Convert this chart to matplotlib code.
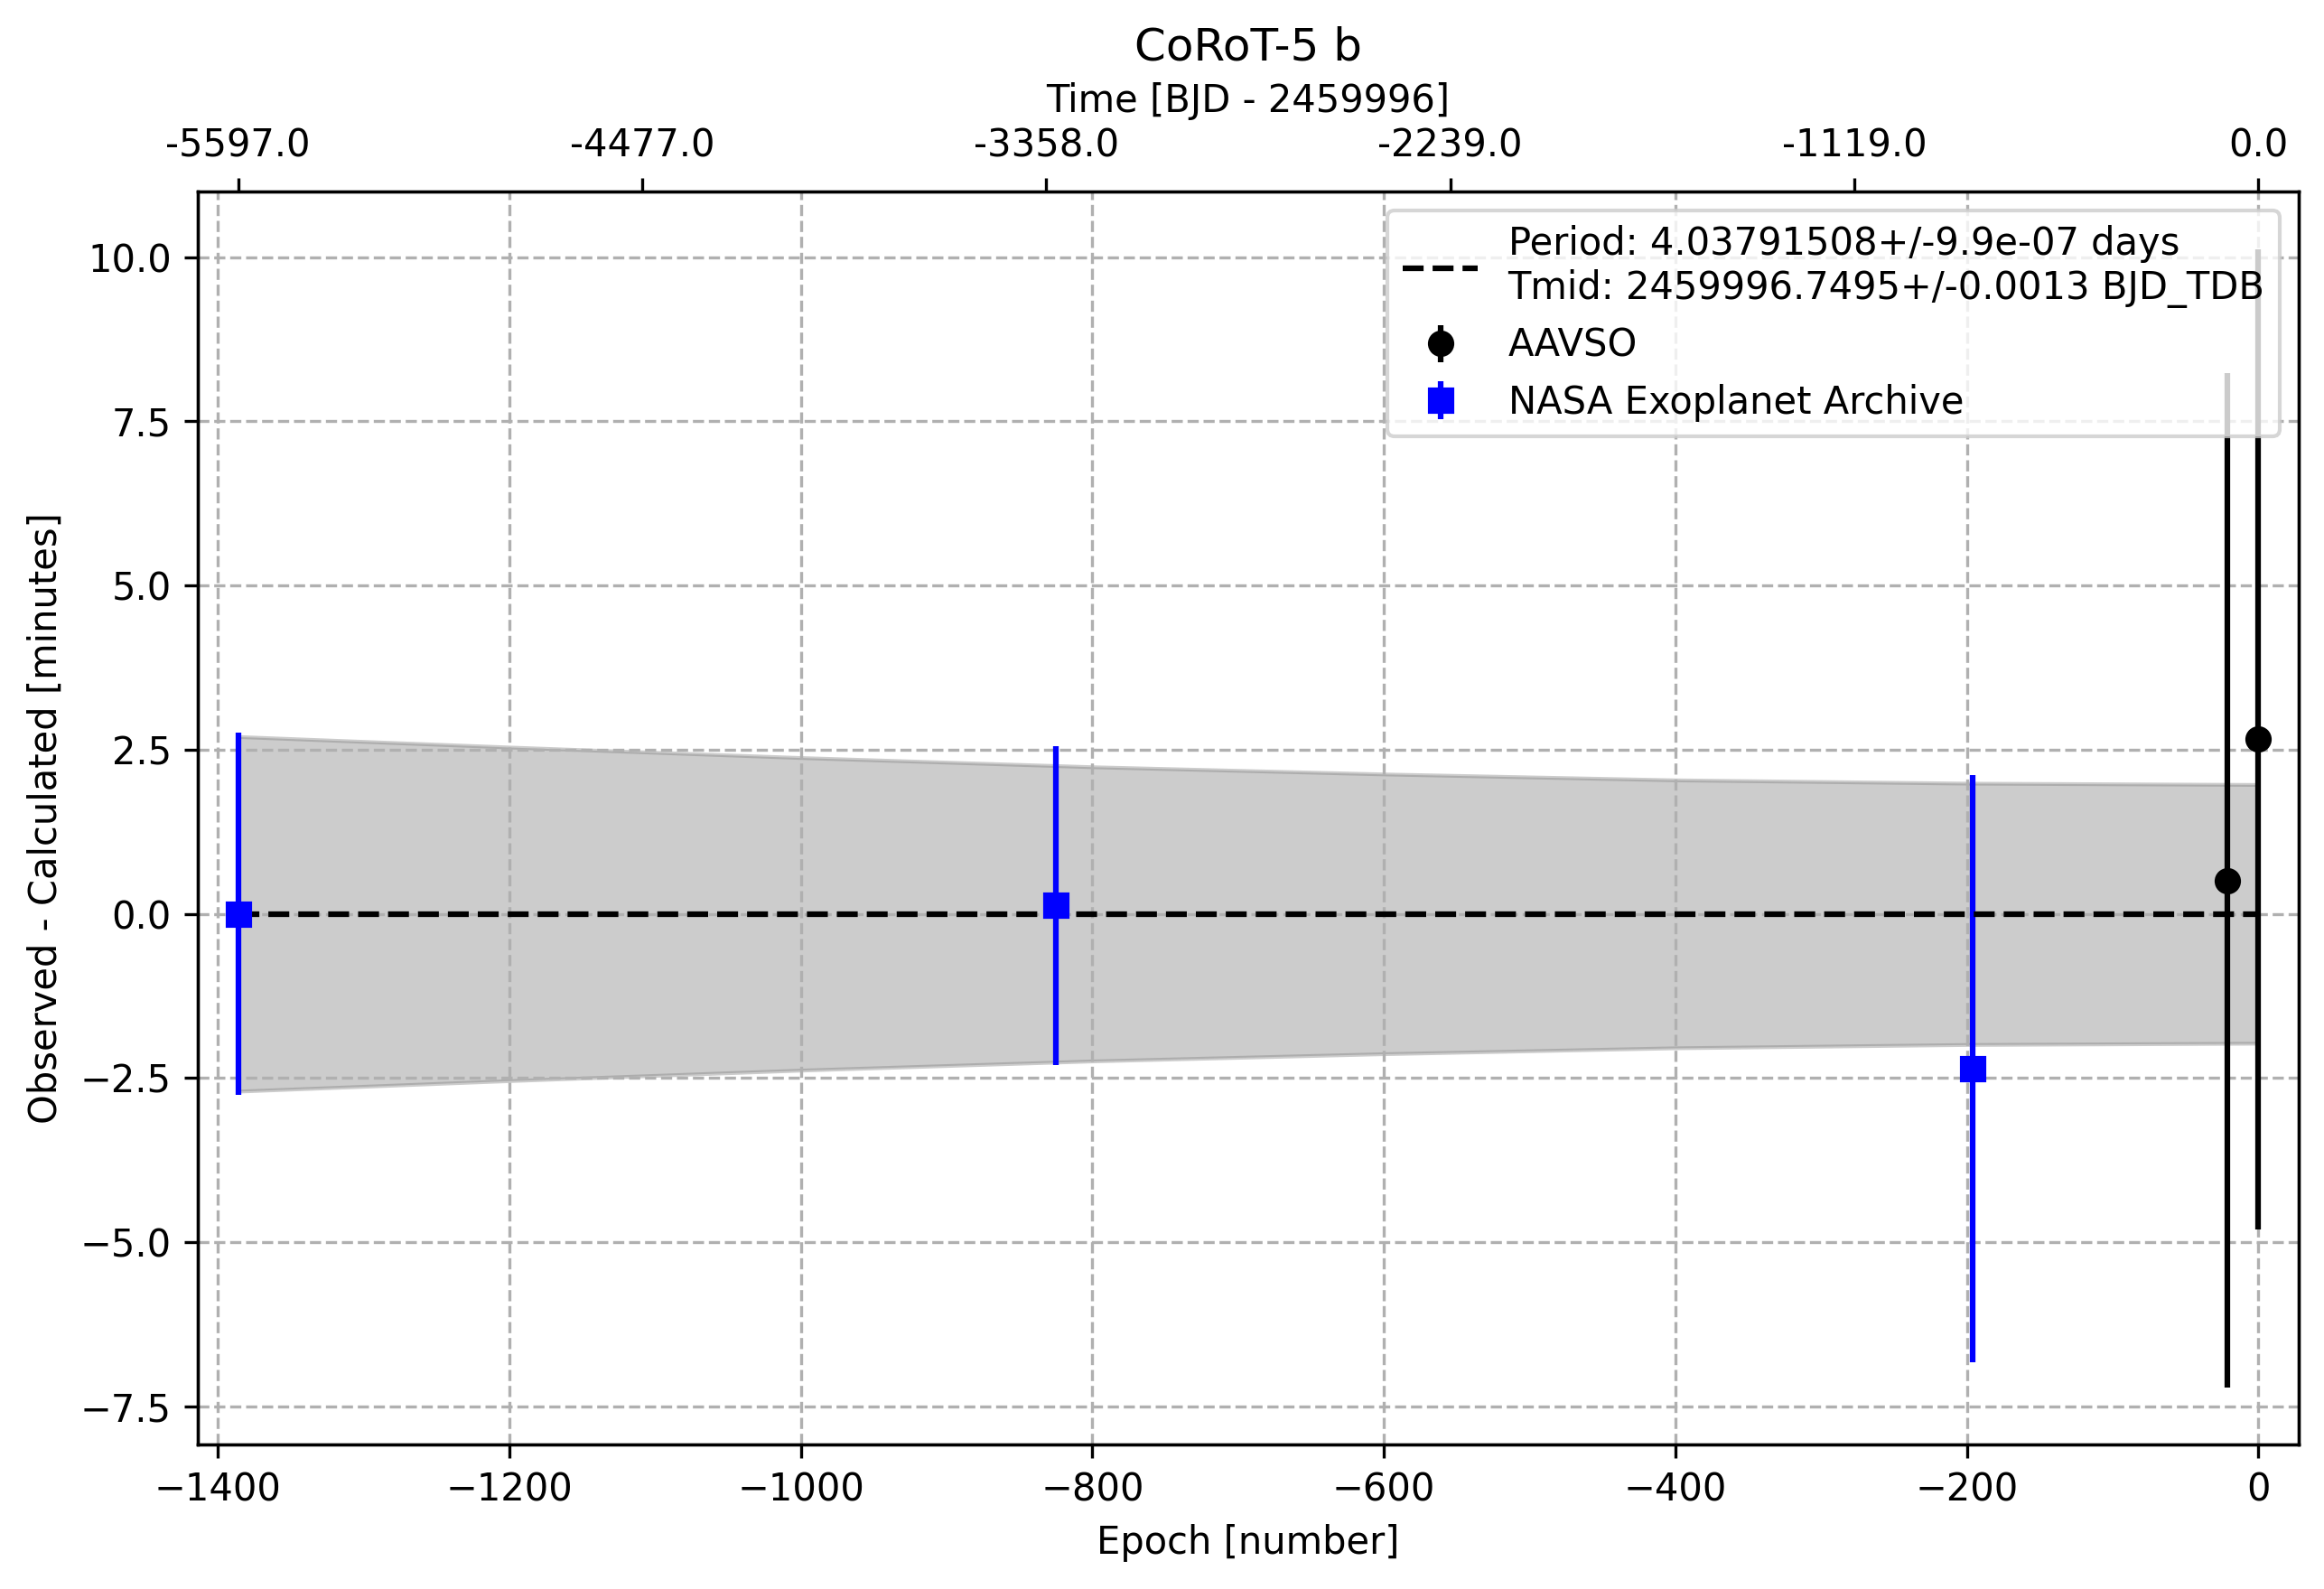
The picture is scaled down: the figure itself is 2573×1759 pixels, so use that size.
import numpy as np
import matplotlib
matplotlib.use("Agg")
import matplotlib.pyplot as plt

# ---- data ----
period = 4.03791508
period_err = 9.9e-07
tmid = 2459996.7495
tmid_err = 0.0013

aavso_epoch = [-21, 0]
aavso_oc = [0.51, 2.66]
aavso_err = [7.73, 7.46]

nasa_epoch = [-1386, -825, -196]
nasa_oc = [0.0, 0.13, -2.36]
nasa_err = [2.76, 2.43, 4.47]

band_epoch = [-1386, -1200, -1000, -800, -600, -400, -200, 0]
band_half = [2.70, 2.54, 2.38, 2.24, 2.13, 2.04, 1.99, 1.97]

fit_epoch = [-1386, 0]
fit_oc = [0.0, 0.0]

top_tick_epochs = [-1386.0, -1108.8, -831.6, -554.4, -277.2, 0.0]
top_tick_labels = ["-5597.0", "-4477.0", "-3358.0", "-2239.0", "-1119.0", "0.0"]

W, H, DPI = 2573, 1759, 300
fig = plt.figure(figsize=(W / DPI, H / DPI), dpi=DPI)
ax = fig.add_axes([219 / W, 1 - 1599 / H, (2545 - 219) / W, (1599 - 212) / H])

be = np.array(band_epoch)
bh = np.array(band_half)
ax.fill_between(be, -bh, bh, color="gray", alpha=0.4)

ax.errorbar(aavso_epoch, aavso_oc, yerr=aavso_err, fmt="o", color="black",
            ls="none", label="AAVSO")
ax.errorbar(nasa_epoch, nasa_oc, yerr=nasa_err, fmt="s", color="blue",
            ls="none", label="NASA Exoplanet Archive")
ax.plot(fit_epoch, fit_oc, "k--",
        label=f"Period: {period}+/-{period_err:.1e} days\n"
              f"Tmid: {tmid}+/-{tmid_err} BJD_TDB")

ax.set_xlim(-1413.7, 27.7)
ax.set_ylim(-8.08, 11.0)
ax.grid(True, ls="--")
ax.set_xlabel("Epoch [number]")
ax.set_ylabel("Observed - Calculated [minutes]")
ax.legend(loc="upper right")

ax2 = ax.twiny()
ax2.set_xlim(ax.get_xlim())
ax2.set_xticks(top_tick_epochs)
ax2.set_xticklabels(top_tick_labels)
ax2.set_xlabel("Time [BJD - 2459996]")

ax.set_title("CoRoT-5 b")

fig.savefig("out.png", dpi=DPI)
